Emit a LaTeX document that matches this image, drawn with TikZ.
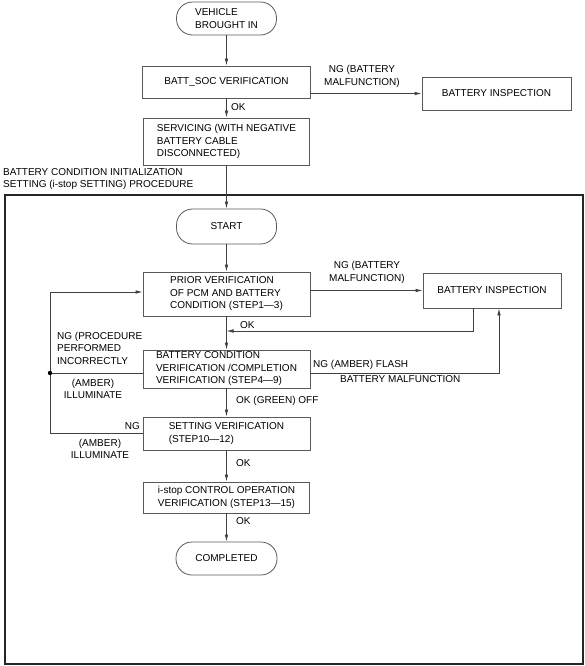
\documentclass[tikz,border=0pt]{standalone}
\usepackage{fontspec}
\setmainfont{Liberation Sans}
\usetikzlibrary{arrows.meta}
\begin{document}
\begin{tikzpicture}[x=1pt,y=-1pt,
  every node/.style={font=\fontsize{10}{12.5}\selectfont, inner sep=0pt},
  box/.style={draw=black!65, line width=0.8pt, align=left},
  term/.style={draw=black!65, line width=0.8pt, rounded corners=16pt, align=left},
  lbl/.style={align=left},
  conn/.style={draw=black!75, line width=0.8pt},
  arr/.style={conn, -{Latex[length=7pt,width=3.6pt]}}
]
\useasboundingbox (0,0) rectangle (584,666);
% frame
\draw[line width=1.4pt, black!85] (5,195) rectangle (583,664);
\node[lbl, anchor=north west] (title) at (3,168) {BATTERY CONDITION INITIALIZATION\\SETTING (i-stop SETTING) PROCEDURE};

% nodes
\node[term, minimum width=100pt, minimum height=33pt] (veh) at (226.5,18.5) {VEHICLE\\BROUGHT IN};
\node[box, minimum width=168pt, minimum height=32pt] (soc) at (226.5,82) {BATT\_SOC VERIFICATION};
\node[box, minimum width=149pt, minimum height=33pt] (bi1) at (496.5,93.5) {BATTERY INSPECTION};
\node[box, minimum width=166pt, minimum height=47pt] (srv) at (226.5,141.5) {SERVICING (WITH NEGATIVE\\BATTERY CABLE\\DISCONNECTED)};
\node[term, minimum width=100pt, minimum height=35pt] (start) at (226.5,226.5) {START};
\node[box, minimum width=167pt, minimum height=44pt] (prior) at (226.5,294) {PRIOR VERIFICATION\\OF PCM AND BATTERY\\CONDITION (STEP1---3)};
\node[box, minimum width=138pt, minimum height=35pt] (bi2) at (492,290.5) {BATTERY INSPECTION};
\node[box, minimum width=167pt, minimum height=38pt] (bcv) at (226.5,369) {BATTERY CONDITION\\VERIFICATION /COMPLETION\\VERIFICATION (STEP4---9)};
\node[box, minimum width=167pt, minimum height=33pt] (set) at (226.5,433.5) {SETTING VERIFICATION\\(STEP10---12)};
\node[box, minimum width=166pt, minimum height=31pt] (istop) at (226.5,497.5) {i-stop CONTROL OPERATION\\VERIFICATION (STEP13---15)};
\node[term, minimum width=101pt, minimum height=33pt] (comp) at (226.5,558.5) {COMPLETED};

% coordinates
\coordinate (r1) at (473,331);
\coordinate (m1) at (226.5,331);
\coordinate (f1) at (499,373);
\coordinate (dot) at (50,373);
\coordinate (lt) at (50,292);
\coordinate (lb) at (50,433.5);

% connectors
\draw[arr] (veh) -- (soc);
\draw[arr] (soc.east |- bi1.west) -- (bi1.west);
\draw[arr] (soc) -- (srv);
\draw[arr] (srv) -- (start);
\draw[arr] (start) -- (prior);
\draw[arr] (prior.east |- bi2.west) -- (bi2.west);
\draw[arr] (prior) -- (bcv);
\draw[arr] (r1 |- bi2.south) -- (r1) -- (m1);
\draw[arr] (bcv.east |- f1) -- (f1) -- (f1 |- bi2.south);
\draw[conn] (bcv.west |- dot) -- (dot);
\draw[arr] (lb) -- (lt) -- (prior.west |- lt);
\draw[conn] (lb) -- (set.west);
\fill[black] (dot) circle (2.2pt);
\draw[arr] (bcv) -- (set);
\draw[arr] (set) -- (istop);
\draw[arr] (istop) -- (comp);

% labels
\node[lbl, align=center] (l1) at (362,76.5) {NG (BATTERY\\MALFUNCTION)};
\node[lbl, anchor=west] (l2) at (231,107) {OK};
\node[lbl, align=center] (l3) at (367,272.5) {NG (BATTERY\\MALFUNCTION)};
\node[lbl, anchor=west] (l4) at (240,325) {OK};
\node[lbl, anchor=west] (l5) at (313,365) {NG (AMBER) FLASH};
\node[lbl, anchor=west] (l6) at (340,379) {BATTERY MALFUNCTION};
\node[lbl, anchor=west] (l7) at (57,348) {NG (PROCEDURE\\PERFORMED\\INCORRECTLY};
\node[lbl, align=center] (l8) at (93,389) {(AMBER)\\ILLUMINATE};
\node[lbl, anchor=east] (l9) at (140,426) {NG};
\node[lbl, align=center] (l10) at (100,449) {(AMBER)\\ILLUMINATE};
\node[lbl, anchor=west] (l11) at (236,401) {OK (GREEN) OFF};
\node[lbl, anchor=west] (l12) at (236,463) {OK};
\node[lbl, anchor=west] (l13) at (236,521) {OK};
\end{tikzpicture}
\end{document}
